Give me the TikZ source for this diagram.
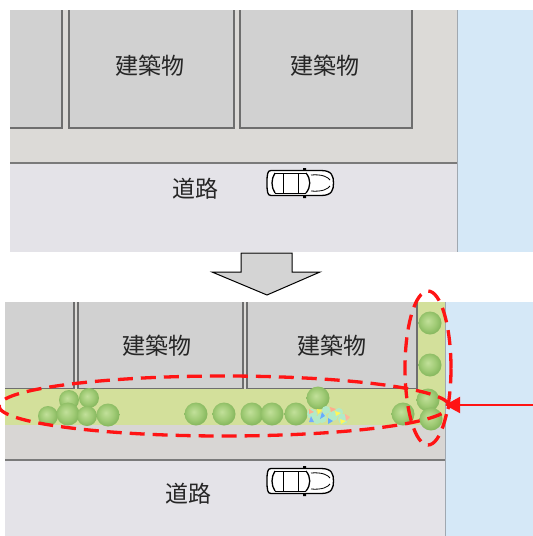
\documentclass[tikz,border=0pt]{standalone}
\usepackage{fontspec}
\newfontfamily\cjk{Noto Sans CJK JP}
\usetikzlibrary{arrows.meta}

\definecolor{lotbg}{HTML}{DCDAD7}
\definecolor{bldg}{HTML}{D1D1D1}
\definecolor{bldgline}{HTML}{6E6E6E}
\definecolor{roadc}{HTML}{E4E3E8}
\definecolor{roadline}{HTML}{7A7A7A}
\definecolor{water}{HTML}{D5E8F7}
\definecolor{waterline}{HTML}{A0A8B0}
\definecolor{verge}{HTML}{D3E09B}
\definecolor{walk}{HTML}{D8D6D4}
\definecolor{treehi}{HTML}{C2E09A}
\definecolor{treemid}{HTML}{92C266}
\definecolor{treeedge}{HTML}{639E40}
\definecolor{markred}{HTML}{FF1414}
\definecolor{arrowfill}{HTML}{D4D4D4}

% soft round crown used for every tree
\pgfdeclareradialshading{treeshade}{\pgfpoint{-5bp}{5bp}}{%
  color(0bp)=(treehi); color(16bp)=(treemid!70!treehi);
  color(40bp)=(treeedge); color(50bp)=(treeedge!80!verge)}

\tikzset{
  lbl/.style={font=\cjk\fontsize{23}{23}\selectfont, inner sep=0pt, text=black!85},
  building/.style={fill=bldg, draw=bldgline, line width=1.1pt},
  tree/.style={shading=treeshade},
  zone/.style={draw=markred, line width=3.3pt, dash pattern=on 15pt off 8pt},
  carline/.style={draw=black, line width=1.3pt, line join=round},
  car/.pic={
    \draw[carline, fill=white]
      (-29,-12.5) -- (21,-12.5) .. controls (32,-12.5) and (33.5,-7) .. (33.5,0)
      .. controls (33.5,7) and (32,12.5) .. (21,12.5) -- (-29,12.5)
      .. controls (-32.5,12.5) and (-33,9) .. (-33,0)
      .. controls (-33,-9) and (-32.5,-12.5) .. (-29,-12.5) -- cycle;
    \draw[carline] (-25,-10) .. controls (-29,-4) and (-29,4) .. (-25,10);
    \draw[carline, line width=0.9pt] (-25,-10) -- (6,-10) (-25,10) -- (6,10);
    \draw[carline, line width=0.9pt] (-17,-10) -- (-17,10) (-2,-10) -- (-2,10);
    \draw[carline] (6,-10) .. controls (11,-4) and (11,4) .. (6,10);
    \draw[carline, line width=0.8pt] (11,-8) .. controls (22,-9) and (28,-6) .. (30,-3)
      (11,8) .. controls (22,9) and (28,6) .. (30,3);
    \fill[black] (3,-12.5) rectangle (6,-15) (3,12.5) rectangle (6,15);
  }
}

\begin{document}
\begin{tikzpicture}[x=1pt, y=-1pt]
\useasboundingbox (0,0) rectangle (533,536);
\fill[white] (0,0) rectangle (533,536);

% ---------- upper plan: before ----------
\begin{scope}
  \clip (10,10) rectangle (457,252);
  \fill[lotbg] (10,10) rectangle (457,163);
  \draw[building] (0,0) rectangle (62,128);
  \draw[building] (69,0) rectangle (234,128);
  \draw[building] (240,0) rectangle (412,128);
  \fill[roadc] (10,163) rectangle (457,252);
  \draw[roadline, line width=1.3pt] (10,163) -- (457,163);
\end{scope}
\fill[water] (457,10) rectangle (533,252);
\draw[waterline, line width=1pt] (457,10) -- (457,252);

\node[lbl] (b1) at (150,66) {建築物};
\node[lbl] (b2) at (325,66) {建築物};
\node[lbl] (r1) at (195,189) {道路};
\pic at (300,183) {car};

% ---------- transition arrow ----------
\draw[fill=arrowfill, draw=black, line width=1pt, line join=miter]
  (241,253) -- (292,253) -- (292,272) -- (320,272) -- (267,295)
  -- (212,272) -- (241,272) -- cycle;

% ---------- lower plan: after ----------
\begin{scope}
  \clip (5,302) rectangle (445,536);
  \fill[lotbg] (5,302) rectangle (445,460);
  \draw[building] (0,290) rectangle (74,389);
  \draw[building] (78,290) rectangle (243,389);
  \draw[building] (247,290) rectangle (417,389);
  \fill[verge] (0,389) rectangle (445,425);
  \fill[verge] (418,290) rectangle (445,425);
  \fill[walk] (0,425) rectangle (445,460);
  \fill[roadc] (0,460) rectangle (445,540);
  \draw[roadline, line width=1.3pt] (0,460) -- (445,460);
\end{scope}
\fill[water] (445,302) rectangle (533,536);
\draw[waterline, line width=1pt] (445,302) -- (445,536);

% planting along the lot edge
\foreach \x/\y/\r in {69/400/10, 89/398/10, 48/416/10, 68/414/11.5, 87/416/10,
  108/415/11.5, 196/414/11.5, 224/414/11.5, 252/414/11.5, 272/414/11.5,
  296/414/11.5, 318/398/11.5, 403/414/11.5,
  430/323/11.5, 430/365/11.5, 428/400/11.5, 431/419/11.5}
  \shade[tree] (\x,\y) circle[radius=\r pt];

% flower bed
\begin{scope}
  \fill[green!45!teal!30] (312,414) circle[radius=5pt] (322,418) circle[radius=5pt]
    (333,416) circle[radius=5pt] (343,419) circle[radius=5pt] (326,410) circle[radius=4pt]
    (317,420) circle[radius=4pt] (339,412) circle[radius=4pt];
  \fill[orange!60!red!45] (309,409) -- (314,412) -- (309,414) -- cycle;
  \fill[yellow!70!white] (317,409) -- (322,410) -- (318,414) -- cycle;
  \fill[blue!55!cyan!60] (322,412) -- (325,416) -- (320,419) -- cycle;
  \fill[blue!60!cyan!55] (311,416) -- (314,422) -- (309,422) -- cycle;
  \fill[orange!55!red!45] (330,407) -- (336,409) -- (331,412) -- cycle;
  \fill[yellow!65!white] (335,411) -- (341,413) -- (336,416) -- cycle;
  \fill[blue!55!cyan!60] (328,418) -- (333,421) -- (328,424) -- cycle;
  \fill[orange!55!red!40] (345,414) -- (350,417) -- (346,421) -- cycle;
  \fill[yellow!65!white] (340,419) -- (346,421) -- (341,424) -- cycle;
\end{scope}

\node[lbl] (b3) at (157,346) {建築物};
\node[lbl] (b4) at (332,346) {建築物};
\node[lbl] (r2) at (188,494) {道路};
\pic at (300,481) {car};

% marked green belts
\draw[zone] (224,406) ellipse[x radius=225pt, y radius=30pt];
\draw[zone] (428,368) ellipse[x radius=23pt, y radius=77pt];

% approach from the water side
\coordinate (src) at (533,405);
\coordinate (hit) at (445,405);
\draw[markred, line width=2pt, -{Triangle[length=15pt, width=16pt]}] (src) -- (hit);
\end{tikzpicture}
\end{document}
